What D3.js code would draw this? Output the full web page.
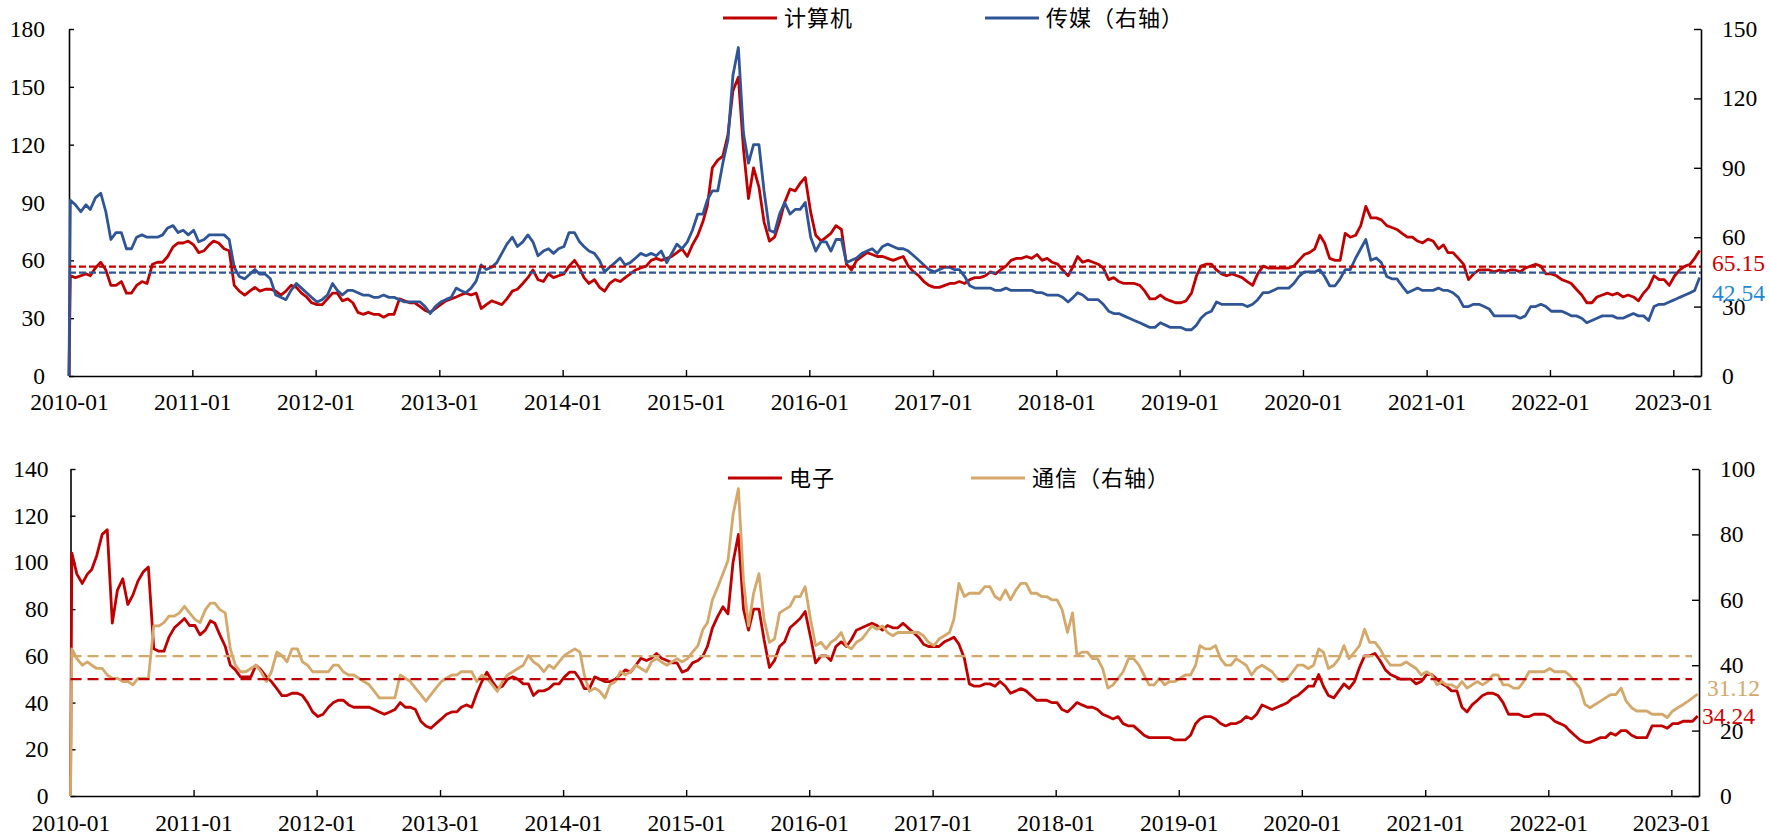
<!DOCTYPE html>
<html><head><meta charset="utf-8">
<script src="https://cdn.jsdelivr.net/npm/d3@7"></script>
<style>
body{margin:0;background:#fff}
.num{font-family:"Liberation Serif","Times New Roman",serif;}
.cjk{font-family:"Noto Sans CJK SC","Noto Sans CJK JP",sans-serif;}
</style>
</head><body>
<svg id="c" width="1770" height="835" xmlns="http://www.w3.org/2000/svg"></svg>
<script>
// ---------- DATA ----------
// observation dates: a start point, then the 5th and 20th of each month, 2010-01 .. 2023-03
const dateStart = "2010-01-01";
const obsDays = [5, 20];
const xDomainEnd = "2023-03-24";
const xTickLabels = ["2010-01","2011-01","2012-01","2013-01","2014-01","2015-01","2016-01","2017-01","2018-01","2019-01","2020-01","2021-01","2022-01","2023-01"];

const topLeftTicks = [0, 30, 60, 90, 120, 150, 180];
const topRightTicks = [0, 30, 60, 90, 120, 150];
const botLeftTicks = [0, 20, 40, 60, 80, 100, 120, 140];
const botRightTicks = [0, 20, 40, 60, 80, 100];

// 计算机 (left axis)
const computer = [0,
 52,51,52,53,52,56,59,55,47,47,49,43,43,47,49,48,58,59,59,62,67,69,69,70,
 68,64,65,68,70,69,66,65,47,44,42,44,46,44,45,45,44,42,44,47,46,43,41,38,
 37,37,40,43,43,39,40,38,33,32,33,32,32,30.5,32,32,40,39,38,38,36,34,33,35,
 37,39,40,41,42,43,42,43,35,37,39,38,37,40,44,45,48,51,55,50,49,53,51,52,
 53,57,60,56,51,48,50,46,44,48,50,49,51,53,55,56,57,60,61,60,61,62,64,66,
 62,68,73,80,88,108,112,114,125,148,155,118,92,108,98,80,70,72,80,90,97,96,100,103,
 85,73,70,72,74,78,76,58,55,60,62,64,63,62,62,61,60,61,62,57,54,52,49,47,
 46,46,47,48,48,49,48,50,51,51,52,54,53,55,57,60,61,61,62,61,63,60,61,59,
 58,55,52,57,62,59,60,59,58,56,50,51,49,48,48,48,47,44,40,40,42,40,39,38,
 38,39,43,52,57,58,58,55,53,52,53,52,51,49,47,53,57,56,56,56,56,56,57,60,
 63,64,66,73,69,61,60,60,74,72,73,78,88,82,82,81,78,77,76,74,72,72,70,69,
 71,70,66,68,64,64,61,58,50,53,55,55,55,54,55,54,55,55,54,56,57,58,57,53,
 53,52,50,49,48,45,42,38,38,41,42,43,42,43,41,42,41,39,43,46,52,50,50,47,
 52,55,57,58,61,65.15];

// 传媒 (right axis)
const media = [0,
 76,74,71,74,72,77,79,71,59,62,62,55,55,60,61,60,60,60,61,64,65,62,63,61,
 63,58,59,61,61,61,61,59,47,43,42,44,46,44,44,42,35,34,33,37,40,38,36,34,
 32,33,35,40,37,35,37,37,36,35,35,34,34,35,34,34,33,32,32,32,32,30,27,30,
 32,33,34,38,37,36,38,41,48,46,47,49,53,57,60,56,58,61,58,52,54,55,53,55,
 56,62,62,58,56,54,53,50,45,47,49,51,48,49,51,53,52,53,52,54,49,53,57,55,
 58,63,70,70,76,80,80,92,102,130,142,105,92,100,100,80,63,62,70,75,70,72,72,75,
 60,54,58,58,54,59,59,49,50,51,53,54,55,53,56,57,56,55,55,54,52,50,48,46,
 45,46,47,47,46,46,43,39,38,38,38,38,37,37,38,37,37,37,37,37,36,36,35,35,
 35,34,32,34,36,35,33,33,33,31,28,27,27,26,25,24,23,22,21,21,23,22,21,21,
 21,20,20,22,25,27,28,32,31,31,31,31,31,30,31,33,36,36,37,38,38,38,40,43,
 45,45,45,46,43,39,39,42,46,46,51,55,59,50,51,49,43,42,42,39,36,37,38,37,
 37,37,38,37,37,36,34,30,30,31,31,30,29,26,26,26,26,26,25,26,30,30,31,30,
 28,28,28,27,26,26,25,23,24,25,26,26,26,25,25,26,27,26,26,24,30,31,31,32,
 33,34,35,36,37,42.54];

// 电子 (left axis)
const electronics = [0,
 104,95,91,95,97,103,112,114,74,88,93,82,86,92,96,98,63,62,62,68,72,74,76,73,
 73,69,71,75,74,69,64,56,54,51,51,51,56,54,51,49,46,43,43,44,44,43,40,36,
 34,35,38,40,41,41,39,38,38,38,38,37,36,35,36,37,40,38,38,37,32,30,29,31,
 33,35,36,36,38,39,38,44,49,53,49,46,47,50,51,50,48,48,43,45,45,46,48,48,
 51,53,53,50,46,46,51,50,49,49,50,52,54,53,56,59,58,59,61,59,58,57,57,53,
 54,57,58,60,64,72,77,81,78,100,112,80,71,80,80,67,55,58,64,66,72,74,76,79,
 68,57,60,60,58,64,66,64,67,71,72,73,74,73,71,73,72,72,74,72,70,68,65,64,
 64,64,66,67,68,65,59,48,47,47,48,48,47,49,47,44,45,46,45,43,41,41,41,40,
 40,37,36,38,40,39,38,38,37,35,34,33,34,31,30,30,28,26,25,25,25,25,25,24,
 24,24,26,31,33,34,34,33,31,30,31,31,32,34,33,35,39,38,37,38,39,40,42,43,
 45,47,47,52,47,43,42,45,48,46,49,55,60,60,61,58,54,52,51,50,50,50,48,49,
 52,52,50,48,47,45,45,38,36,39,41,43,44,44,43,40,35,35,35,34,34,35,35,35,
 34,32,31,30,28,26,24,23,23,24,25,25,27,26,28,28,26,25,25,25,30,30,30,29,
 31,31,32,32,32,34.24];

// 通信 (right axis)
const telecom = [0,
 45,42,40,41,40,39,39,37,36,36,35,35,34,36,36,36,52,52,53,55,55,56,58,56,
 54,53,57,59,59,57,56,45,40,38,38,39,40,38,35,38,44,43,41,45,45,41,40,38,
 38,38,38,40,40,38,37,37,36,35,34,32,30,30,30,30,37,36,35,33,31,29,31,33,
 35,36,37,37,38,38,38,35,37,36,34,32,35,37,38,39,40,43,41,40,38,40,39,41,
 43,44,45,44,37,32,33,32,30,34,35,38,37,38,40,39,38,41,42,41,40,41,42,41,
 42,44,46,51,53,60,64,68,72,86,94,66,52,62,68,54,47,48,56,57,58,61,61,64,
 54,46,47,45,47,48,50,46,45,47,48,50,52,51,52,50,49,50,50,50,50,50,49,47,
 46,48,49,50,54,65,61,62,62,62,64,64,61,60,63,60,63,65,65,62,62,61,61,60,
 60,57,50,56,43,44,44,42,42,39,33,34,36,38,42,42,40,37,34,34,36,34,35,35,
 36,37,37,40,46,45,45,46,42,40,40,42,41,40,37,39,40,39,38,36,35,36,38,40,
 40,39,40,45,44,39,40,42,46,42,44,46,51,47,47,45,42,40,40,40,41,40,39,37,
 38,37,34,35,34,34,33,35,33,34,35,34,35,37,37,34,34,33,33,35,38,38,38,38,
 39,38,38,38,37,35,33,28,27,28,29,30,31,31,33,29,27,26,26,26,25,25,25,24,
 26,27,28,29,30,31.12];

// median reference levels (dashed)
const computerMedian = 56.7;   // left axis
const mediaMedian = 44.65;     // right axis
const electronicsMedian = 50.0; // left axis
const telecomMedian = 42.8;    // right axis

const endLabels = {computer: "65.15", media: "42.54", electronics: "34.24", telecom: "31.12"};

// ---------- BUILD DATES ----------
const parse = d3.timeParse("%Y-%m-%d");
const dates = [parse(dateStart)];
for (let y = 2010; y <= 2023; y++) {
  for (let m = 0; m < 12; m++) {
    if (y === 2023 && m > 2) break;
    obsDays.forEach(d => dates.push(new Date(y, m, d)));
  }
}

// ---------- DRAW ----------
const svg = d3.select("#c");
const RED = "#C00000", BLUE = "#2F5597", GOLD = "#D4A86A";
const FS = "23.5px";

function panel(cfg) {
  const g = svg.append("g");
  const x = d3.scaleTime().domain([parse(dateStart), parse(xDomainEnd)]).range([cfg.x0, cfg.x1]);
  const yL = d3.scaleLinear().domain([0, cfg.leftTicks[cfg.leftTicks.length-1]]).range([cfg.yb, cfg.yt]);
  const yR = d3.scaleLinear().domain([0, cfg.rightTicks[cfg.rightTicks.length-1]]).range([cfg.yb, cfg.yt]);

  const ax = (sel) => {
    sel.attr("font-family", null).attr("font-size", null);
    sel.selectAll("path.domain").attr("stroke", "#000").attr("stroke-width", 1.6);
    sel.selectAll(".tick line").attr("stroke", "#000").attr("stroke-width", 1.4);
    sel.selectAll("text").attr("class", "num").style("font-size", FS).attr("fill", "#000");
  };
  const tickDates = xTickLabels.map(s => parse(s + "-01"));
  g.append("g").attr("transform", `translate(0,${cfg.yb})`)
    .call(d3.axisBottom(x).tickValues(tickDates).tickFormat(d3.timeFormat("%Y-%m")).tickSize(-6).tickSizeOuter(0).tickPadding(cfg.xPad))
    .call(ax);
  g.append("g").attr("transform", `translate(${cfg.x0},0)`)
    .call(d3.axisLeft(yL).tickValues(cfg.leftTicks).tickSize(-5).tickSizeOuter(0).tickPadding(cfg.lPad))
    .call(ax);
  g.append("g").attr("transform", `translate(${cfg.x1},0)`)
    .call(d3.axisRight(yR).tickValues(cfg.rightTicks).tickSize(-7).tickSizeOuter(0).tickPadding(cfg.rPad))
    .call(ax);

  const lineL = d3.line().x((d, i) => x(dates[i])).y(d => yL(d));
  const lineR = d3.line().x((d, i) => x(dates[i])).y(d => yR(d));
  g.append("path").attr("d", lineL(cfg.sL)).attr("fill", "none").attr("stroke", cfg.cL)
    .attr("stroke-width", 2.8).attr("stroke-linejoin", "round");
  g.append("path").attr("d", lineR(cfg.sR)).attr("fill", "none").attr("stroke", cfg.cR)
    .attr("stroke-width", 2.8).attr("stroke-linejoin", "round");

  g.append("line").attr("x1", cfg.x0).attr("x2", cfg.dashEnd).attr("y1", yL(cfg.mL)).attr("y2", yL(cfg.mL))
    .attr("stroke", cfg.cL).attr("stroke-width", 2.2).attr("stroke-dasharray", cfg.dash);
  g.append("line").attr("x1", cfg.x0).attr("x2", cfg.dashEnd).attr("y1", yR(cfg.mR)).attr("y2", yR(cfg.mR))
    .attr("stroke", cfg.cR).attr("stroke-width", 2.2).attr("stroke-dasharray", cfg.dash);

  // end value labels
  g.append("text").attr("class", "num").attr("x", cfg.lblLx).attr("y", yL(+cfg.lblL) + cfg.lblLdy).attr("dy", "0.35em")
    .style("font-size", FS).attr("fill", cfg.lblLc).text(cfg.lblL);
  g.append("text").attr("class", "num").attr("x", cfg.lblRx).attr("y", yR(+cfg.lblR) + cfg.lblRdy).attr("dy", "0.35em")
    .style("font-size", FS).attr("fill", cfg.lblRc).text(cfg.lblR);

  // legend
  cfg.legend.forEach(l => {
    g.append("line").attr("x1", l.x).attr("x2", l.x + 54).attr("y1", cfg.legY).attr("y2", cfg.legY)
      .attr("stroke", l.c).attr("stroke-width", 3);
    g.append("text").attr("class", "cjk").attr("x", l.x + 61).attr("y", cfg.legY).attr("dy", "0.36em")
      .style("font-size", "22px").attr("fill", "#000")
      .attr("letter-spacing", 1).text(l.t);
  });
}

panel({
  x0: 69, x1: 1701, yb: 376, yt: 29, xPad: 17, lPad: 24, rPad: 21,
  leftTicks: topLeftTicks, rightTicks: topRightTicks,
  sL: computer, sR: media, cL: RED, cR: BLUE, mL: computerMedian, mR: mediaMedian,
  dash: "7,3", dashEnd: 1701,
  lblL: endLabels.computer, lblLx: 1712, lblLdy: 12, lblLc: "#D00000",
  lblR: endLabels.media, lblRx: 1712, lblRdy: 15, lblRc: "#1E88D0",
  legY: 18, legend: [{x: 723, c: RED, t: "计算机"}, {x: 985, c: BLUE, t: "传媒（右轴）"}]
});

panel({
  x0: 70.5, x1: 1699, yb: 796, yt: 469, xPad: 18, lPad: 22, rPad: 21,
  leftTicks: botLeftTicks, rightTicks: botRightTicks,
  sL: electronics, sR: telecom, cL: RED, cR: GOLD, mL: electronicsMedian, mR: telecomMedian,
  dash: "11,6", dashEnd: 1692,
  lblL: endLabels.electronics, lblLx: 1702, lblLdy: 0, lblLc: "#D00000",
  lblR: endLabels.telecom, lblRx: 1707, lblRdy: -6, lblRc: GOLD,
  legY: 478, legend: [{x: 728, c: RED, t: "电子"}, {x: 971, c: GOLD, t: "通信（右轴）"}]
});
</script>
</body></html>
